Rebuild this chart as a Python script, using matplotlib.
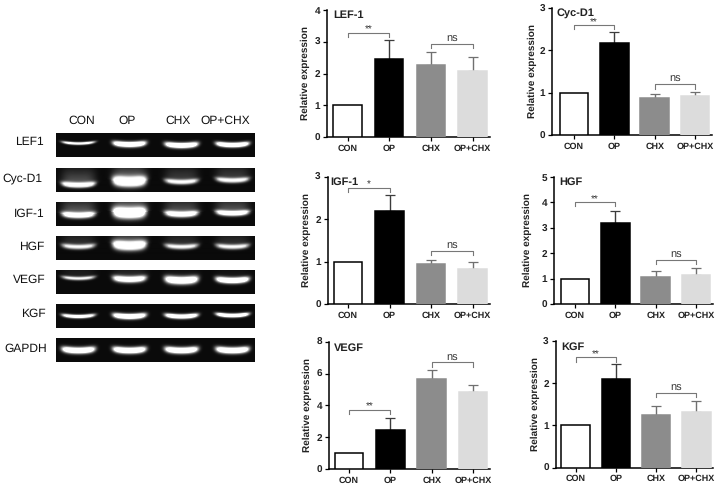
import numpy as np
import matplotlib
matplotlib.use("Agg")
import matplotlib.pyplot as plt

plt.rcParams['font.family'] = ['Liberation Sans', 'DejaVu Sans']
plt.rcParams['text.hinting'] = 'no_hinting'
plt.rcParams['text.hinting_factor'] = 1

W, H = 722, 488
groups = ["CON", "OP", "CHX", "OP+CHX"]
bar_colors = ["white", "black", "#8c8c8c", "#dcdcdc"]
err_colors = ["black", "#3c3c3c", "#707070", "#707070"]

# bar charts
lef_means = [1, 2.47, 2.28, 2.07]
lef_tops = [1, 3.04, 2.67, 2.51]
cyc_means = [1, 2.17, 0.88, 0.93]
cyc_tops = [1, 2.43, 0.96, 1.01]
igf_means = [1, 2.2, 0.94, 0.82]
igf_tops = [1, 2.58, 1.04, 0.98]
hgf_means = [1, 3.2, 1.07, 1.14]
hgf_tops = [1, 3.68, 1.29, 1.4]
vegf_means = [1, 2.47, 5.67, 4.82]
vegf_tops = [1, 3.22, 6.2, 5.26]
kgf_means = [1, 2.1, 1.25, 1.33]
kgf_tops = [1, 2.45, 1.47, 1.59]

# gel bands, one value per lane
lane_x = [78, 129, 181, 232]
gel_names = ["LEF1", "Cyc-D1", "IGF-1", "HGF", "VEGF", "KGF", "GAPDH"]
gel_label_y = [142, 178, 214, 247, 280, 314, 349]
gel_label_x = [44, 42, 45, 44, 46, 46, 47]
gel_top = [133, 168, 202, 236, 270, 304, 338]
band_y = [[10, 11, 12, 11.5], [17, 14, 14, 12.5], [13, 11, 12, 11],
          [11, 10, 11, 11], [8, 9, 10, 10], [12, 12, 12, 11], [12, 12, 12, 12]]
band_bright = [[0.7, 1, 1, 1], [0.85, 1, 0.65, 0.65], [0.8, 1, 0.8, 0.8],
               [0.6, 1, 0.6, 0.6], [0.55, 0.85, 1, 1], [0.8, 1, 0.95, 0.95], [1, 1, 1, 1]]
band_thick = [[1.4, 2.6, 2.6, 2.3], [2.3, 4.4, 2.2, 2.2], [2.8, 5, 2.8, 2.5],
              [2.2, 4, 2.2, 2.2], [1.8, 3, 3.6, 2.8], [1.8, 2.6, 2.2, 1.9], [3, 3, 3, 3]]
band_haze = [[0, 0, 0, 0], [0.3, 0.4, 0.2, 0.2], [0.35, 0.45, 0.3, 0.3],
             [0.15, 0.3, 0.15, 0.15], [0.08, 0.12, 0.05, 0.05], [0, 0, 0, 0], [0, 0, 0, 0]]

col_label_x = [82, 127, 178, 225]


def px_axes(left, right, top, bottom):
    return fig.add_axes([left / W, 1 - bottom / H, (right - left) / W, (bottom - top) / H])


def bracket(ax, x0, x1, y, tip, label, label_y, size):
    ax.plot([x0, x0, x1, x1], [tip, y, y, tip], color="#777777", lw=0.8, clip_on=False)
    ax.text((x0 + x1) / 2, label_y, label, ha="center", va="center", fontsize=size, color="#333333")


def bar_panel(title, means, tops, ymax, yticks, axis_x, c0, c3, top, bottom,
              star, star_y, star_tip, ns_y, ns_tip, title_dx, title_dy, label_off):
    spacing = (c3 - c0) / 3
    right = c3 + 17
    ax = px_axes(axis_x, right, top, bottom)
    ax.set_xlim((axis_x - c0) / spacing, (right - c0) / spacing)
    ax.set_ylim(0, ymax)
    x = np.arange(4)
    width = 28.5 / spacing
    ax.bar(x, means, width=width, color=bar_colors, edgecolor=["black", "black", "#8c8c8c", "#dcdcdc"], linewidth=1.1, zorder=3)
    for i in range(1, 4):
        ax.errorbar(x[i], means[i], yerr=[[0], [tops[i] - means[i]]], color=err_colors[i],
                    capsize=3.5, lw=1, capthick=0.9, zorder=2)
    ax.set_xticks(x)
    ax.set_xticklabels(groups, fontsize=6.2, fontweight="bold", color="#222222")
    ax.set_yticks(yticks)
    ax.set_yticklabels([str(t) for t in yticks], fontsize=7.5, fontweight="bold", color="#222222")
    ax.tick_params(axis="both", length=3, width=0.9, pad=2)
    ax.set_ylabel("Relative expression", fontsize=7.4, fontweight="bold", color="#222222")
    ax.yaxis.set_label_coords(-label_off / (right - axis_x), 0.5)
    ax.spines["top"].set_visible(False)
    ax.spines["right"].set_visible(False)
    ax.spines["left"].set_linewidth(1.1)
    ax.spines["bottom"].set_linewidth(1.1)
    ax.text(title_dx / (right - axis_x), 1 - title_dy / (bottom - top), title, transform=ax.transAxes,
            ha="left", va="center", fontsize=8, fontweight="bold", color="#222222")
    unit = ymax / (bottom - top)
    bracket(ax, 0, 1, star_y, star_tip, star, star_y + 2.6 * unit, 7.5)
    bracket(ax, 2, 3, ns_y, ns_tip, "ns", ns_y + 4.8 * unit, 8)
    return ax


def gel_row(row):
    top = gel_top[row]
    height = 24
    yy, xx = np.mgrid[0:height, 56:255]
    img = np.zeros((height, 199)) + 0.04
    for lane in range(4):
        cx = lane_x[lane]
        edge = np.exp(-((xx - cx) / 16.5) ** 6)
        curve = 1.5 * ((xx - cx) / 16.0) ** 2 * -1
        yc = band_y[row][lane] + curve
        sig = band_thick[row][lane]
        img += band_bright[row][lane] * 1.7 * edge * np.exp(-((yy - yc) / sig) ** 2)
        haze = band_haze[row][lane] * np.exp(-((xx - cx) / 16.5) ** 4)
        img += haze * (yy < yc) * np.exp(-((yy - yc) / 14.0) ** 2)
    ax = px_axes(56, 255, top, top + height)
    ax.imshow(np.clip(img, 0, 1), cmap="gray", vmin=0, vmax=1, aspect="auto", interpolation="bilinear")
    ax.axis("off")


fig = plt.figure(figsize=(W / 100, H / 100), dpi=100)

for row in range(len(gel_names)):
    gel_row(row)
    fig.text(gel_label_x[row] / W, 1 - gel_label_y[row] / H, gel_names[row], ha="right", va="center",
             fontsize=8.8, color="#111111")
for i in range(4):
    fig.text(col_label_x[i] / W, 1 - 120.5 / H, groups[i], ha="center", va="center", fontsize=8.8, color="#111111")

bar_panel("LEF-1", lef_means, lef_tops, 4, [0, 1, 2, 3, 4], 327, 347.5, 472.5, 10, 137,
          "**", 3.29, 3.16, 2.92, 2.8, 6, 5, 17)
bar_panel("Cyc-D1", cyc_means, cyc_tops, 3, [0, 1, 2, 3], 552, 574, 695, 8, 135,
          "**", 2.6, 2.5, 1.2, 1.09, 4.7, 4.7, 15)
bar_panel("IGF-1", igf_means, igf_tops, 3, [0, 1, 2, 3], 327.7, 348, 472.7, 176.7, 304,
          "*", 2.74, 2.65, 1.26, 1.15, 3, 5, 17)
bar_panel("HGF", hgf_means, hgf_tops, 5, [0, 1, 2, 3, 4, 5], 554, 575, 696, 177, 304,
          "**", 4.02, 3.85, 1.74, 1.57, 5, 5, 22)
bar_panel("VEGF", vegf_means, vegf_tops, 8, [0, 2, 4, 6, 8], 329, 349, 473, 341.7, 469,
          "**", 3.73, 3.45, 6.7, 6.43, 5, 6.6, 17)
bar_panel("KGF", kgf_means, kgf_tops, 3, [0, 1, 2, 3], 555.7, 575.7, 696.3, 341, 467.7,
          "**", 2.62, 2.51, 1.78, 1.67, 6, 6, 16)

fig.savefig("out.png", dpi=100)
